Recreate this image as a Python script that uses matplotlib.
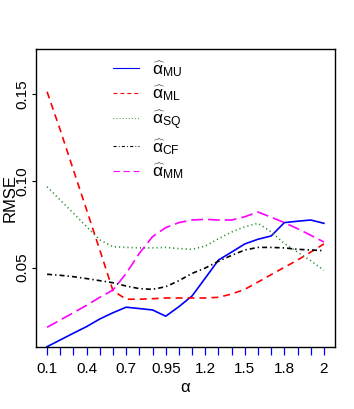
import numpy as np
import matplotlib
matplotlib.use("Agg")
import matplotlib.pyplot as plt
from matplotlib.lines import Line2D

plt.rcParams['font.family'] = ['Liberation Sans', 'DejaVu Sans']
plt.rcParams['mathtext.fontset'] = 'custom'
plt.rcParams['mathtext.rm'] = 'Liberation Sans'
plt.rcParams['mathtext.it'] = 'Liberation Sans'
plt.rcParams['lines.scale_dashes'] = False

# alpha grid (22 points, labels overlapping in R get dropped)
alpha = [0.1, 0.2, 0.3, 0.4, 0.5, 0.6, 0.7, 0.8, 0.9, 0.95, 1.0,
         1.1, 1.2, 1.3, 1.4, 1.5, 1.6, 1.7, 1.8, 1.9, 1.95, 2.0]
shown = ["0.1", "0.4", "0.7", "0.95", "1.2", "1.5", "1.8", "2"]

rmse_mu = [0.0044, 0.0083, 0.0122, 0.0160, 0.0204, 0.0240, 0.0272, 0.0264,
           0.0256, 0.0220, 0.0275, 0.0337, 0.0440, 0.0544, 0.0590, 0.0637,
           0.0664, 0.0683, 0.0760, 0.0768, 0.0775, 0.0756]
rmse_ml = [0.1515, 0.1294, 0.1063, 0.0833, 0.0602, 0.0367, 0.0318, 0.0318,
           0.0321, 0.0325, 0.0325, 0.0325, 0.0325, 0.0329, 0.0348, 0.0375,
           0.0417, 0.0460, 0.0502, 0.0544, 0.0590, 0.0637]
rmse_sq = [0.0967, 0.0890, 0.0814, 0.0736, 0.0660, 0.0621, 0.0617, 0.0614,
           0.0614, 0.0617, 0.0610, 0.0606, 0.0625, 0.0667, 0.0706, 0.0736,
           0.0756, 0.0706, 0.0640, 0.0590, 0.0540, 0.0485]
rmse_cf = [0.0462, 0.0456, 0.0448, 0.0437, 0.0425, 0.0413, 0.0394, 0.0379,
           0.0375, 0.0390, 0.0425, 0.0467, 0.0498, 0.0537, 0.0571, 0.0602,
           0.0617, 0.0617, 0.0614, 0.0606, 0.0602, 0.0598]
rmse_mm = [0.0156, 0.0198, 0.0240, 0.0283, 0.0329, 0.0371, 0.0467, 0.0583,
           0.0679, 0.0731, 0.0760, 0.0775, 0.0779, 0.0775, 0.0775, 0.0794,
           0.0821, 0.0791, 0.0760, 0.0725, 0.0687, 0.0648]

labels = [r'$\widehat{\alpha}_{\mathrm{MU}}$', r'$\widehat{\alpha}_{\mathrm{ML}}$',
          r'$\widehat{\alpha}_{\mathrm{SQ}}$', r'$\widehat{\alpha}_{\mathrm{CF}}$',
          r'$\widehat{\alpha}_{\mathrm{MM}}$']
colors = ['#0000ff', '#ff0000', '#228b22', '#000000', '#ff00ff']
# dash patterns in points: plot lines, then the thinner legend versions
dashes = [None, (5, 3.6), (0.8, 2.2), (3.6, 2.2, 1.0, 2.2), (8.5, 3.6)]
leg_dashes = [None, (2.8, 2.2), (0.6, 1.6), (2.2, 1.6, 0.6, 1.6), (4.6, 2.6)]
series = [rmse_mu, rmse_ml, rmse_sq, rmse_cf, rmse_mm]

x = np.arange(1, len(alpha) + 1)

fig = plt.figure(figsize=(3.54, 4.09), dpi=100)
ax = fig.add_axes([36 / 354, 1 - 346.7 / 409, 299 / 354, 297.4 / 409])

for y, c, d in zip(series, colors, dashes):
    ln, = ax.plot(x, y, color=c, lw=1.2)
    if d is not None:
        ln.set_dashes(d)

handles = []
for lab, c, d in zip(labels, colors, leg_dashes):
    h = Line2D([], [], color=c, lw=0.8, label=lab)
    if d is not None:
        h.set_dashes(d)
    handles.append(h)

ax.legend(handles=handles, loc='upper left', bbox_to_anchor=(0.2565, 0.968),
          frameon=False, fontsize=12.5, borderpad=0, borderaxespad=0,
          handlelength=1.53, handletextpad=0.75, labelspacing=0.28)

ax.set_xlim(0.16, 22.84)
ax.set_ylim(0.0044, 0.176)

tick_lab = [s if s in shown else "" for s in ["%g" % a for a in alpha]]
ax.set_xticks(x)
ax.set_xticklabels(tick_lab)
ax.set_yticks([0.05, 0.10, 0.15])
ax.set_yticklabels(["0.05", "0.10", "0.15"], rotation=90, va='center')

ax.tick_params(axis='x', colors='#0000ff', labelcolor='black', length=6,
               width=0.9, pad=5, labelsize=11)
ax.tick_params(axis='y', length=3, width=0.8, pad=1.5, labelsize=11)

ax.set_xlabel('α', fontsize=12, labelpad=3)
ax.set_ylabel('RMSE', fontsize=12, va='center')
ax.yaxis.set_label_coords(-0.087, 0.5)

for s in ax.spines.values():
    s.set_linewidth(1.0)

fig.savefig('out.png', dpi=100)
